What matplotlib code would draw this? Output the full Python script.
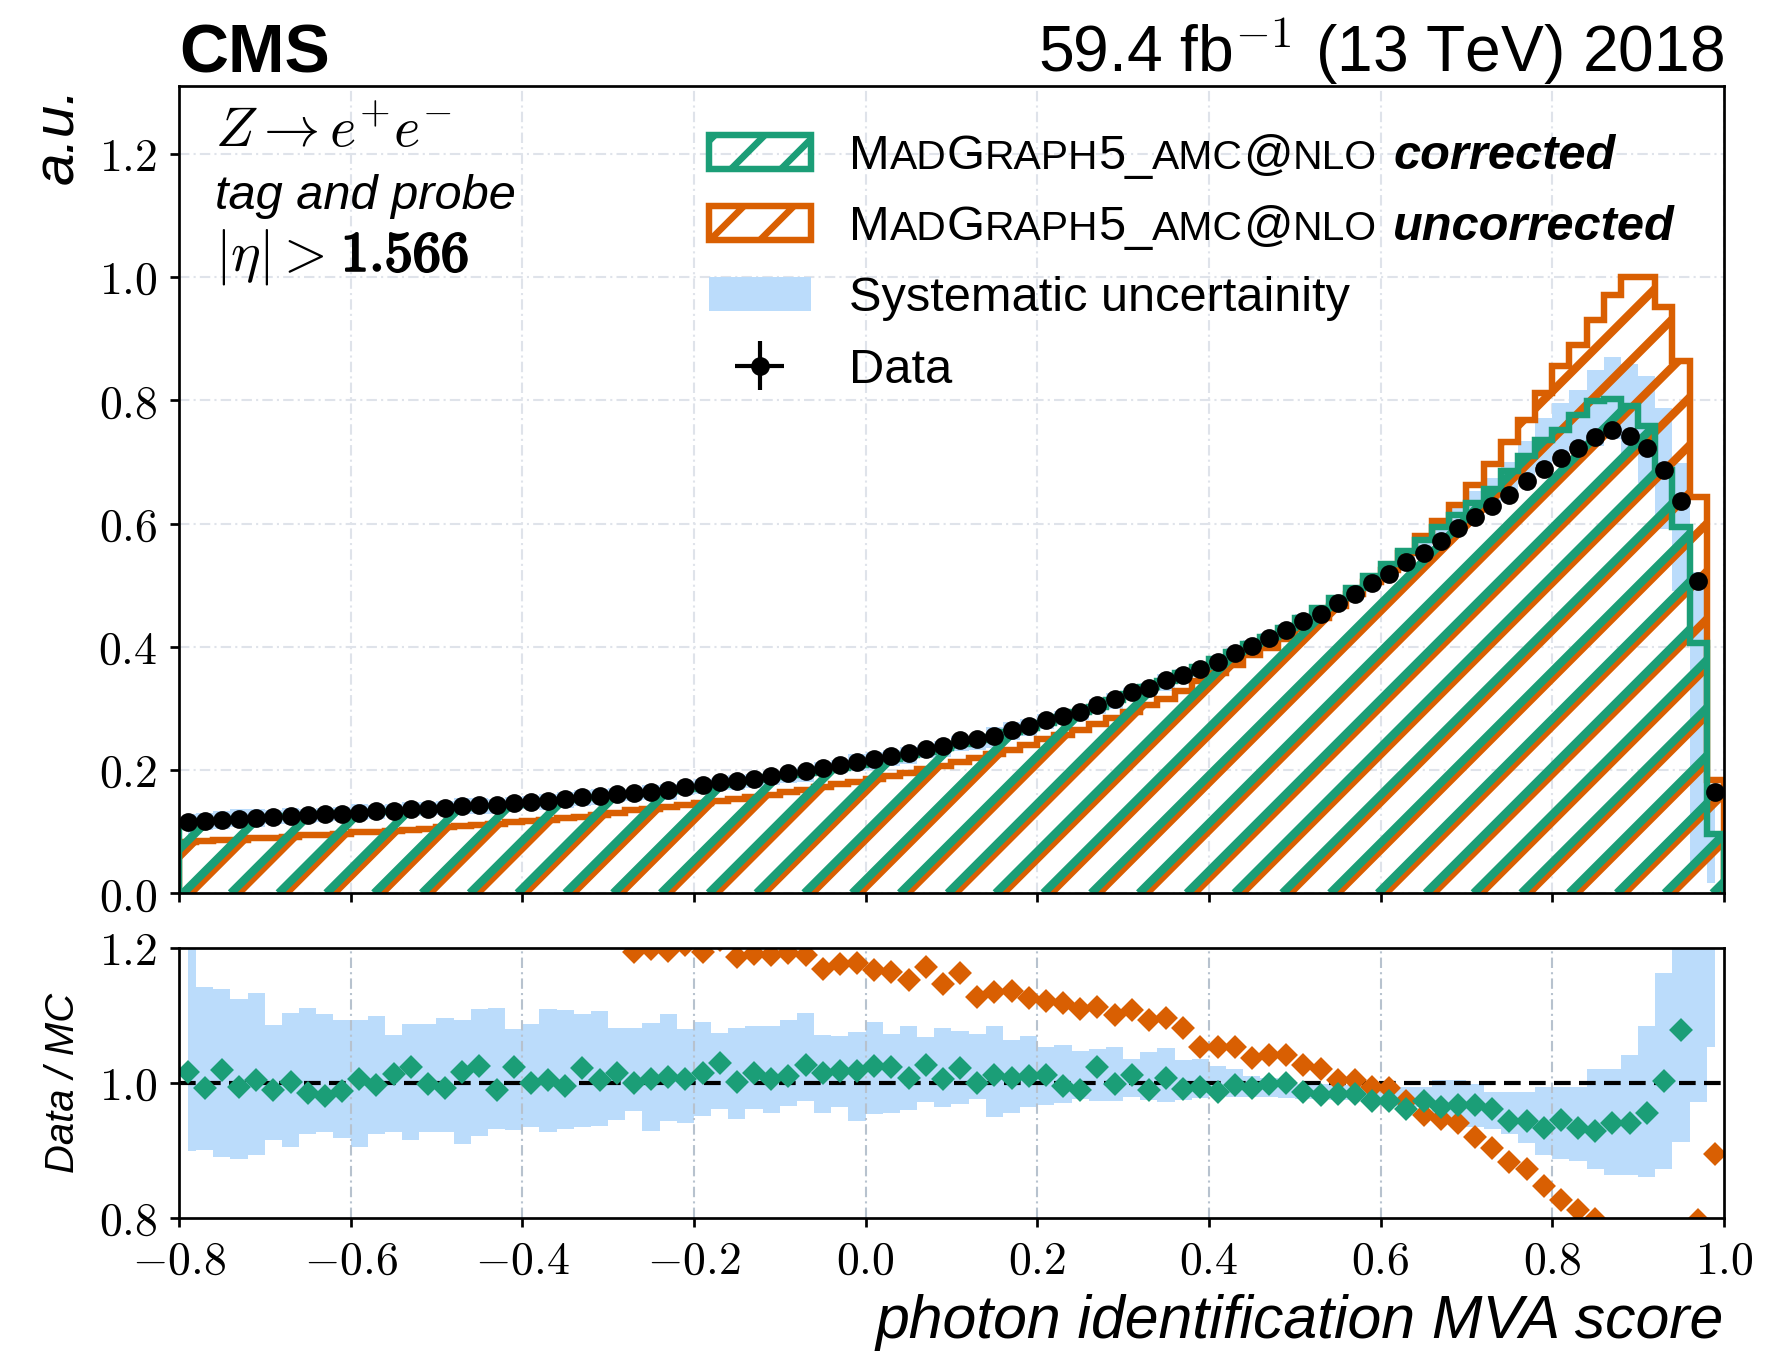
import numpy as np
import matplotlib
matplotlib.use("Agg")
import matplotlib.pyplot as plt
import matplotlib.patheffects as pe
from matplotlib.patches import Polygon, Patch
from matplotlib.collections import LineCollection
from matplotlib.offsetbox import TextArea, HPacker, AnnotationBbox

plt.rcParams["mathtext.fontset"] = "cm"
plt.rcParams["font.family"] = ["Liberation Sans", "DejaVu Sans"]
plt.rcParams["hatch.linewidth"] = 1.6

GREEN = "#1b9e77"
ORANGE = "#d95f02"
BLUE = "#bbdcfb"

# binning: 90 bins of 0.02 between -0.8 and 1.0
x_lo, x_hi, n_bins = -0.8, 1.0, 90
edges = np.linspace(x_lo, x_hi, n_bins + 1)
centers = 0.5 * (edges[:-1] + edges[1:])

# normalised data (a.u.)
data = [0.116, 0.117, 0.119, 0.121, 0.122, 0.123, 0.125, 0.127, 0.128, 0.129,
        0.131, 0.133, 0.134, 0.136, 0.137, 0.139, 0.141, 0.143, 0.143, 0.146,
        0.148, 0.150, 0.153, 0.156, 0.158, 0.161, 0.162, 0.164, 0.167, 0.172,
        0.176, 0.180, 0.182, 0.186, 0.190, 0.195, 0.199, 0.203, 0.208, 0.213,
        0.218, 0.222, 0.228, 0.234, 0.239, 0.248, 0.250, 0.256, 0.265, 0.272,
        0.281, 0.288, 0.294, 0.306, 0.316, 0.326, 0.333, 0.346, 0.355, 0.364,
        0.376, 0.390, 0.402, 0.414, 0.428, 0.442, 0.454, 0.471, 0.486, 0.503,
        0.518, 0.538, 0.553, 0.571, 0.592, 0.610, 0.628, 0.646, 0.669, 0.689,
        0.707, 0.723, 0.741, 0.752, 0.742, 0.723, 0.687, 0.637, 0.507, 0.164]

# MadGraph5_aMC@NLO corrected
mc_corr = [0.115, 0.117, 0.118, 0.120, 0.121, 0.123, 0.125, 0.127, 0.129, 0.130,
           0.131, 0.132, 0.133, 0.134, 0.136, 0.138, 0.139, 0.141, 0.142, 0.144,
           0.147, 0.149, 0.152, 0.154, 0.156, 0.159, 0.161, 0.163, 0.166, 0.170,
           0.173, 0.176, 0.180, 0.184, 0.188, 0.192, 0.196, 0.200, 0.204, 0.208,
           0.213, 0.218, 0.224, 0.229, 0.235, 0.242, 0.248, 0.254, 0.262, 0.269,
           0.277, 0.286, 0.294, 0.302, 0.313, 0.323, 0.334, 0.345, 0.357, 0.368,
           0.380, 0.392, 0.404, 0.416, 0.431, 0.447, 0.463, 0.479, 0.496, 0.515,
           0.534, 0.556, 0.573, 0.594, 0.614, 0.633, 0.656, 0.685, 0.709, 0.736,
           0.751, 0.776, 0.799, 0.802, 0.790, 0.758, 0.687, 0.594, 0.406, 0.097]

# MadGraph5_aMC@NLO uncorrected
mc_uncorr = [0.084, 0.085, 0.086, 0.087, 0.089, 0.090, 0.092, 0.094, 0.095, 0.097,
             0.099, 0.100, 0.101, 0.103, 0.105, 0.107, 0.109, 0.111, 0.113, 0.115,
             0.117, 0.119, 0.122, 0.124, 0.127, 0.131, 0.135, 0.137, 0.140, 0.143,
             0.146, 0.149, 0.153, 0.156, 0.160, 0.164, 0.168, 0.172, 0.177, 0.181,
             0.186, 0.191, 0.196, 0.201, 0.207, 0.213, 0.220, 0.226, 0.233, 0.241,
             0.250, 0.257, 0.265, 0.275, 0.285, 0.294, 0.305, 0.316, 0.329, 0.344,
             0.357, 0.371, 0.386, 0.398, 0.412, 0.429, 0.446, 0.466, 0.485, 0.505,
             0.524, 0.552, 0.580, 0.604, 0.630, 0.663, 0.696, 0.732, 0.768, 0.812,
             0.855, 0.890, 0.931, 0.971, 1.000, 1.000, 0.952, 0.863, 0.643, 0.184]

# Data / MC ratios
ratio_corr = [1.016, 0.993, 1.019, 0.994, 1.005, 0.990, 1.001, 0.985, 0.981, 0.988,
              1.006, 0.997, 1.014, 1.023, 0.998, 0.992, 1.017, 1.025, 0.989, 1.023,
              1.000, 1.004, 0.996, 1.022, 1.005, 1.015, 1.000, 1.006, 1.009, 1.006,
              1.015, 1.030, 1.002, 1.015, 1.006, 1.011, 1.027, 1.015, 1.018, 1.018,
              1.025, 1.023, 1.007, 1.026, 1.006, 1.022, 1.000, 1.012, 1.007, 1.011,
              1.012, 0.995, 0.990, 1.023, 0.999, 1.012, 0.990, 1.007, 0.991, 0.994,
              0.987, 0.997, 0.993, 0.998, 1.000, 0.986, 0.982, 0.984, 0.984, 0.974,
              0.974, 0.961, 0.974, 0.965, 0.967, 0.968, 0.962, 0.943, 0.943, 0.933,
              0.945, 0.934, 0.929, 0.941, 0.941, 0.956, 1.003, 1.078, 1.250, 1.680]

ratio_uncorr = [1.38, 1.38, 1.38, 1.39, 1.37, 1.37, 1.36, 1.35, 1.35, 1.33,
                1.32, 1.33, 1.33, 1.32, 1.30, 1.30, 1.29, 1.29, 1.27, 1.27,
                1.26, 1.26, 1.25, 1.26, 1.24, 1.23, 1.194, 1.199, 1.196, 1.205,
                1.194, 1.212, 1.186, 1.191, 1.190, 1.192, 1.189, 1.169, 1.176, 1.178,
                1.168, 1.164, 1.153, 1.172, 1.147, 1.163, 1.127, 1.135, 1.136, 1.126,
                1.122, 1.118, 1.110, 1.112, 1.100, 1.108, 1.094, 1.096, 1.082, 1.054,
                1.053, 1.053, 1.037, 1.041, 1.041, 1.026, 1.020, 1.004, 1.004, 0.994,
                0.993, 0.973, 0.952, 0.947, 0.941, 0.920, 0.903, 0.883, 0.872, 0.847,
                0.827, 0.812, 0.799, 0.774, 0.742, 0.723, 0.722, 0.738, 0.797, 0.895]

# systematic band, as data / (MC +- syst)
syst_ratio_hi = [1.250, 1.142, 1.139, 1.124, 1.134, 1.086, 1.104, 1.111, 1.102, 1.093,
                 1.094, 1.099, 1.071, 1.088, 1.088, 1.096, 1.093, 1.110, 1.111, 1.080,
                 1.087, 1.109, 1.108, 1.102, 1.106, 1.081, 1.082, 1.089, 1.102, 1.080,
                 1.091, 1.074, 1.082, 1.084, 1.084, 1.093, 1.104, 1.071, 1.069, 1.075,
                 1.090, 1.072, 1.085, 1.068, 1.081, 1.077, 1.073, 1.085, 1.064, 1.069,
                 1.053, 1.057, 1.047, 1.050, 1.054, 1.036, 1.046, 1.052, 1.034, 1.035,
                 1.025, 1.020, 1.010, 1.008, 1.005, 0.998, 0.998, 0.998, 0.997, 0.997,
                 0.994, 0.994, 0.994, 1.005, 1.005, 0.999, 0.987, 0.987, 0.987, 0.994,
                 0.994, 0.994, 1.020, 1.020, 1.041, 1.085, 1.163, 1.300, 10.0, 10.0]

syst_ratio_lo = [0.899, 0.901, 0.890, 0.887, 0.894, 0.915, 0.905, 0.924, 0.928, 0.919,
                 0.905, 0.925, 0.928, 0.915, 0.927, 0.927, 0.910, 0.921, 0.932, 0.930,
                 0.935, 0.927, 0.932, 0.935, 0.936, 0.945, 0.958, 0.929, 0.943, 0.941,
                 0.951, 0.962, 0.946, 0.961, 0.955, 0.966, 0.974, 0.955, 0.964, 0.943,
                 0.954, 0.956, 0.960, 0.972, 0.964, 0.969, 0.977, 0.950, 0.955, 0.964,
                 0.968, 0.971, 0.976, 0.973, 0.974, 0.979, 0.975, 0.972, 0.975, 0.978,
                 0.980, 0.979, 0.979, 0.979, 0.978, 0.976, 0.976, 0.975, 0.975, 0.972,
                 0.966, 0.964, 0.964, 0.942, 0.942, 0.935, 0.932, 0.924, 0.911, 0.893,
                 0.888, 0.885, 0.872, 0.864, 0.864, 0.861, 0.872, 0.913, 0.972, 1.054]

xticks = [-0.8, -0.6, -0.4, -0.2, 0.0, 0.2, 0.4, 0.6, 0.8, 1.0]
yticks_main = [0.0, 0.2, 0.4, 0.6, 0.8, 1.0, 1.2]
yticks_ratio = [0.8, 1.0, 1.2]

data = np.array(data)
syst_up_lo = data / np.array(syst_ratio_hi)
syst_up_hi = data / np.array(syst_ratio_lo)

fig = plt.figure(figsize=(1771 / 300, 1355 / 300), dpi=300)
ax = fig.add_axes([0.10107, 0.34074, 0.87239, 0.59579])
ax2 = fig.add_axes([0.10107, 0.10111, 0.87239, 0.19926])

W = 0.87239 * 1771
H = 0.59579 * 1355
GRID_LS = (0, (5, 2, 1, 2))


def hatched_hist(a, vals, color, shift_px, z):
    verts = [(edges[0], 0)]
    for i, v in enumerate(vals):
        verts += [(edges[i], v), (edges[i + 1], v)]
    verts.append((edges[-1], 0))
    clip = Polygon(verts, closed=True, facecolor="none", edgecolor="none",
                   transform=a.transData)
    a.add_patch(clip)
    spacing = 47.8
    segs = []
    for n in range(int(-H / spacing) - 2, int(W / spacing) + 3):
        x0 = (4.0 + shift_px + n * spacing) / W
        segs.append([(x0, 0), (x0 + H / W, 1)])
    lc = LineCollection(segs, colors=color, linewidths=2.0, transform=a.transAxes,
                        zorder=z, capstyle="butt")
    lc.set_clip_path(clip)
    a.add_collection(lc)
    a.stairs(vals, edges, baseline=0, fill=False, color=color, lw=1.55, zorder=z + 0.1)


# upper panel
ax.fill_between(centers, syst_up_lo, syst_up_hi, step="mid", color=BLUE, lw=0, zorder=1)
hatched_hist(ax, mc_uncorr, ORANGE, 7.0, 2)
hatched_hist(ax, mc_corr, GREEN, 0.0, 3)
eb = ax.errorbar(centers, data, xerr=0.0, yerr=0.0, fmt="o", color="black", ms=3.5,
                 elinewidth=1.0, capsize=0, zorder=6)

ax.set_xlim(x_lo, x_hi)
ax.set_ylim(0, 1.31)
ax.set_xticks(xticks)
ax.set_yticks(yticks_main)
ax.set_yticklabels([f"${t:.1f}$" for t in yticks_main])
ax.tick_params(labelbottom=False)
ax.grid(True, color="#dfe3ea", lw=0.5, ls=GRID_LS)
ax.set_axisbelow(True)

# lower panel
ax2.fill_between(centers, syst_ratio_lo, syst_ratio_hi, step="mid", color=BLUE, lw=0, zorder=1)
for t in xticks[1:-1]:
    ax2.axvline(t, color="#b7c2ce", lw=0.5, ls=GRID_LS, zorder=2)
ax2.axhline(1.0, color="black", lw=1.0, ls=(0, (4, 2)), zorder=3)
ax2.plot(centers, ratio_uncorr, "D", color=ORANGE, ms=2.9, zorder=4)
ax2.plot(centers, ratio_corr, "D", color=GREEN, ms=2.9, zorder=5)
ax2.set_xlim(x_lo, x_hi)
ax2.set_ylim(0.8, 1.2)
ax2.set_xticks(xticks)
ax2.set_xticklabels([f"${t:.1f}$" for t in xticks])
ax2.set_yticks(yticks_ratio)
ax2.set_yticklabels([f"${t:.1f}$" for t in yticks_ratio])

for a in (ax, ax2):
    a.tick_params(direction="out", length=2.2, width=0.65, labelsize=11, pad=3,
                  top=False, right=False)
    for s in a.spines.values():
        s.set_linewidth(0.65)
        s.set_zorder(8)

# labels
top_y = 1 + 14 / H
ax.text(0.0, top_y, "CMS", transform=ax.transAxes, fontsize=16.3, fontweight="bold",
        ha="left", va="baseline")
ax.text(1.0, top_y, r"59.4 fb$^{-1}$ (13 TeV) 2018", transform=ax.transAxes,
        fontsize=15.4, ha="right", va="baseline")
ax.text(0.0233, 0.924, r"$Z \rightarrow e^{+}e^{-}$", transform=ax.transAxes,
        fontsize=13.5, va="baseline")
ax.text(0.0233, 0.848, "tag and probe", transform=ax.transAxes, fontsize=11.7,
        style="italic", va="baseline")
eta_txt = ax.text(0.0233, 0.771, r"$|\eta| >$", transform=ax.transAxes,
                  fontsize=13.5, va="baseline")
ax.text(-0.078, 1.0, "a.u.", transform=ax.transAxes, rotation=90, ha="center",
        va="top", style="italic", fontsize=14)
ax2.text(-0.075, 0.5, "Data / MC", transform=ax2.transAxes, rotation=90, ha="center",
         va="center", style="italic", fontsize=9.6)
ax2.text(1.0, -0.444, "photon identification MVA score", transform=ax2.transAxes,
         ha="right", va="baseline", style="italic", fontsize=14.6)

# legend
handles = [Patch(facecolor="none", edgecolor=GREEN, hatch="//", lw=1.55),
           Patch(facecolor="none", edgecolor=ORANGE, hatch="//", lw=1.55),
           Patch(facecolor=BLUE, edgecolor="none"),
           eb]
labels = ["M", "M", "Systematic uncertainity", "Data"]
leg = ax.legend(handles, labels, loc="upper left", bbox_to_anchor=(0.343, 0.941),
                frameon=False, fontsize=11.7, handlelength=2.09, handleheight=0.7,
                handletextpad=0.78, labelspacing=0.54, borderpad=0, borderaxespad=0)

# small-caps generator name continues each "M" label
big = dict(fontsize=11.7)
sc = dict(fontsize=9.8)
bi = dict(fontsize=11.7, fontweight="bold", style="italic")
for t, word in zip(leg.get_texts()[:2], ["corrected", "uncorrected"]):
    parts = [("AD", sc), ("G", big), ("RAPH", sc), ("5_", big), ("AMC", sc),
             ("@", big), ("NLO", sc)]
    name = HPacker(children=[TextArea(s, textprops=p) for s, p in parts],
                   align="baseline", pad=0, sep=0)
    row = HPacker(children=[name, TextArea(word, textprops=bi)],
                  align="baseline", pad=0, sep=4)
    ab = AnnotationBbox(row, xy=(1, 0), xycoords=t, box_alignment=(0, 0),
                        frameon=False, pad=0, zorder=7)
    ax.add_artist(ab)

# bold eta cut value placed right after the "|eta| >" text
fig.canvas.draw()
bb = eta_txt.get_window_extent()
x_val = ax.transAxes.inverted().transform((bb.x1 + 16, 0))[0]
ax.text(x_val, 0.771, r"$\mathbf{1.566}$", transform=ax.transAxes, fontsize=13.5,
        va="baseline", path_effects=[pe.withStroke(linewidth=0.55, foreground="black")])

fig.canvas.draw()
fig.savefig("out.png", dpi=300)
